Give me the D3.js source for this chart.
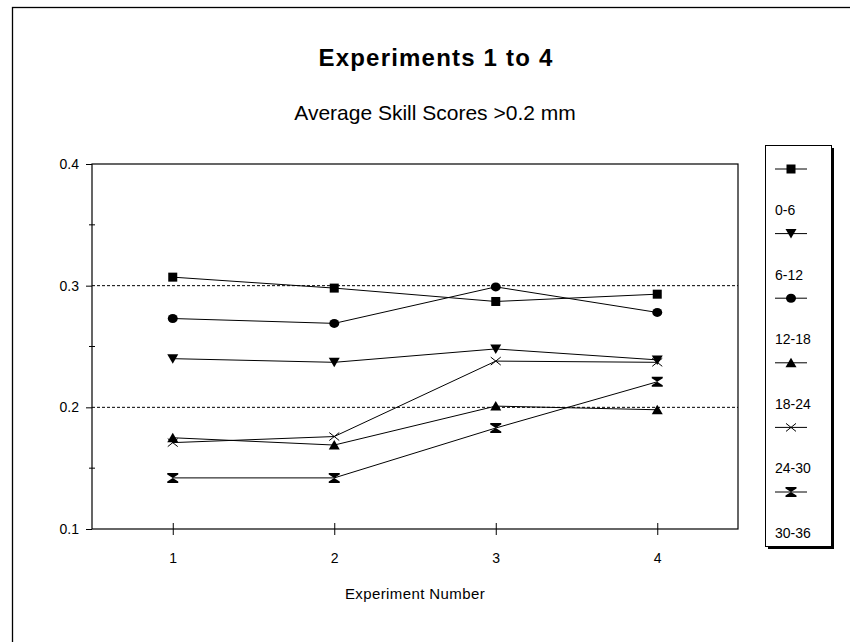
<!DOCTYPE html>
<html>
<head>
<meta charset="utf-8">
<script src="https://cdn.jsdelivr.net/npm/d3@7"></script>
<style>
  body { margin: 0; background: #fff; }
  svg { display: block; font-family: "Liberation Sans", Arial, sans-serif; }
</style>
</head>
<body>
<div id="chart"></div>
<script>
// data
var experiments = [1, 2, 3, 4];
var seriesNames = ["0-6", "6-12", "12-18", "18-24", "24-30", "30-36"];
var s0_6   = [0.307, 0.298, 0.287, 0.293];
var s6_12  = [0.240, 0.237, 0.248, 0.239];
var s12_18 = [0.273, 0.269, 0.299, 0.278];
var s18_24 = [0.175, 0.169, 0.201, 0.198];
var s24_30 = [0.171, 0.176, 0.238, 0.237];
var s30_36 = [0.142, 0.142, 0.183, 0.221];
var yMajor = [0.1, 0.2, 0.3, 0.4];
var yMinor = [0.15, 0.25, 0.35];
var gridLines = [0.2, 0.3];

var allSeries = [s0_6, s6_12, s12_18, s18_24, s24_30, s30_36];
var markerTypes = ["square", "triDown", "circle", "triUp", "cross", "hourglass"];

var W = 850, H = 642;
var plot = {left: 92, right: 738, top: 164, bottom: 529};

var svg = d3.select("#chart")
  .append("svg")
    .attr("width", W)
    .attr("height", H);

// outer chart border (runs off the page at right and bottom)
svg.append("rect")
  .attr("x", 12.5).attr("y", 7.5)
  .attr("width", W + 20).attr("height", H + 20)
  .attr("fill", "none")
  .attr("stroke", "#000")
  .attr("stroke-width", 1.3);

var x = d3.scaleLinear()
    .domain([0.5, 4.5])
    .range([plot.left, plot.right]);

var y = d3.scaleLinear()
    .domain([0.1, 0.4])
    .range([plot.bottom, plot.top]);

// titles
svg.append("text")
  .attr("x", 436).attr("y", 66)
  .attr("text-anchor", "middle")
  .style("font-size", "24px")
  .style("font-weight", "bold")
  .style("letter-spacing", "1.2px")
  .text("Experiments 1 to 4");

svg.append("text")
  .attr("x", 435).attr("y", 120)
  .attr("text-anchor", "middle")
  .style("font-size", "21px")
  .text("Average Skill Scores >0.2 mm");

// dotted gridlines
svg.append("g")
  .selectAll("line")
  .data(gridLines)
  .enter().append("line")
    .attr("x1", plot.left).attr("x2", plot.right)
    .attr("y1", function(d) { return y(d); })
    .attr("y2", function(d) { return y(d); })
    .attr("stroke", "#000")
    .attr("stroke-width", 1)
    .attr("stroke-dasharray", "3,2");

// plot frame
svg.append("rect")
  .attr("x", plot.left).attr("y", plot.top)
  .attr("width", plot.right - plot.left)
  .attr("height", plot.bottom - plot.top)
  .attr("fill", "none")
  .attr("stroke", "#000")
  .attr("stroke-width", 1.2);

// y axis, major ticks outside
var yAxis = svg.append("g")
  .attr("transform", "translate(" + plot.left + ",0)")
  .call(d3.axisLeft(y)
    .tickValues(yMajor)
    .tickFormat(d3.format(".1f"))
    .tickSize(6)
    .tickPadding(7));
yAxis.select(".domain").remove();
yAxis.selectAll("text")
  .style("font-size", "14px")
  .attr("fill", "#000");

// minor ticks crossing the axis
svg.append("g")
  .selectAll("line")
  .data(yMinor)
  .enter().append("line")
    .attr("x1", plot.left - 3).attr("x2", plot.left + 3)
    .attr("y1", function(d) { return y(d); })
    .attr("y2", function(d) { return y(d); })
    .attr("stroke", "#000");

// x axis, ticks crossing
var xAxis = svg.append("g")
  .attr("transform", "translate(0," + plot.bottom + ")")
  .call(d3.axisBottom(x)
    .tickValues(experiments)
    .tickFormat(d3.format("d"))
    .tickSize(6)
    .tickPadding(18));
xAxis.select(".domain").remove();
xAxis.selectAll(".tick line").attr("y1", -6);
xAxis.selectAll("text")
  .style("font-size", "14px")
  .attr("fill", "#000");

svg.append("text")
  .attr("x", (plot.left + plot.right) / 2).attr("y", 599)
  .attr("text-anchor", "middle")
  .style("font-size", "15px")
  .style("letter-spacing", "0.4px")
  .text("Experiment Number");

// marker drawing
function drawMarker(g, type) {
  if (type === "square") {
    g.append("rect").attr("x", -4.5).attr("y", -4.5).attr("width", 9).attr("height", 9).attr("fill", "#000");
  } else if (type === "circle") {
    g.append("ellipse").attr("rx", 5).attr("ry", 4.5).attr("fill", "#000");
  } else if (type === "triUp") {
    g.append("path").attr("d", "M0,-5L5.5,4.5L-5.5,4.5Z").attr("fill", "#000");
  } else if (type === "triDown") {
    g.append("path").attr("d", "M0,5L5.5,-4.5L-5.5,-4.5Z").attr("fill", "#000");
  } else if (type === "cross") {
    g.append("path").attr("d", "M-5,-4L5,4M-5,4L5,-4").attr("stroke", "#000").attr("stroke-width", 1).attr("fill", "none");
  } else if (type === "hourglass") {
    g.append("path").attr("d", "M-5.5,-5L5.5,-5L5.5,-3.5L0,0L5.5,3.5L5.5,5L-5.5,5L-5.5,3.5L0,0L-5.5,-3.5Z").attr("fill", "#000");
  }
}

var line = d3.line()
  .x(function(d, i) { return x(experiments[i]); })
  .y(function(d) { return y(d); });

allSeries.forEach(function(vals, si) {
  svg.append("path")
    .datum(vals)
    .attr("d", line)
    .attr("fill", "none")
    .attr("stroke", "#000")
    .attr("stroke-width", 1);

  vals.forEach(function(v, i) {
    var g = svg.append("g")
      .attr("transform", "translate(" + x(experiments[i]) + "," + y(v) + ")");
    drawMarker(g, markerTypes[si]);
  });
});

// legend box with shadow
var leg = {left: 765, top: 145, right: 831, bottom: 546};
svg.append("rect")
  .attr("x", leg.left + 3).attr("y", leg.top + 3)
  .attr("width", leg.right - leg.left).attr("height", leg.bottom - leg.top)
  .attr("fill", "#000");
svg.append("rect")
  .attr("x", leg.left + 0.5).attr("y", leg.top + 0.5)
  .attr("width", leg.right - leg.left).attr("height", leg.bottom - leg.top)
  .attr("fill", "#fff")
  .attr("stroke", "#000")
  .attr("stroke-width", 1);

var legendStep = 64.6;
seriesNames.forEach(function(name, i) {
  var my = 169 + i * legendStep;
  svg.append("line")
    .attr("x1", 775).attr("x2", 807)
    .attr("y1", my).attr("y2", my)
    .attr("stroke", "#000");
  var g = svg.append("g").attr("transform", "translate(791," + my + ")");
  drawMarker(g, markerTypes[i]);
  svg.append("text")
    .attr("x", 775).attr("y", my + 46)
    .style("font-size", "14px")
    .text(name);
});
</script>
</body>
</html>
